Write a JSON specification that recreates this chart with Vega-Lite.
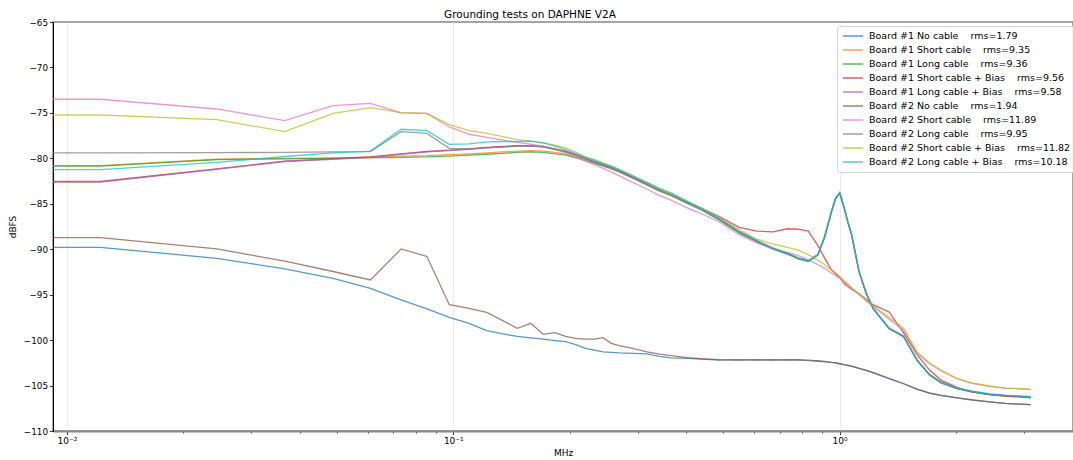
{
  "$schema": "https://vega.github.io/schema/vega-lite/v6.json",
  "width": 1020,
  "height": 409,
  "autosize": {"type": "none"},
  "padding": {"left": 53, "top": 22, "right": 0, "bottom": 29},
  "background": "white",
  "title": {"text": "Grounding tests on DAPHNE V2A", "font": "DejaVu Sans", "fontSize": 10.5, "fontWeight": "normal", "color": "#000000", "anchor": "middle", "dx": -33, "baseline": "bottom", "offset": 4, "dy": 16},
  "data": {"values": [
    {"f":0.006,"b1n":-89.8,"b1s":-80.8,"b1l":-80.85,"b1sb":-82.55,"b1lb":-82.62,"b2n":-88.73,"b2s":-73.5,"b2l":-79.4,"b2sb":-75.23,"b2lb":-81.25},
    {"f":0.012207,"b1n":-89.8,"b1s":-80.8,"b1l":-80.85,"b1sb":-82.55,"b1lb":-82.62,"b2n":-88.73,"b2s":-73.5,"b2l":-79.4,"b2sb":-75.23,"b2lb":-81.25},
    {"f":0.024414,"b1n":-91.0,"b1s":-80.1,"b1l":-80.15,"b1sb":-81.15,"b1lb":-81.2,"b2n":-89.97,"b2s":-74.57,"b2l":-79.38,"b2sb":-75.74,"b2lb":-80.45},
    {"f":0.036621,"b1n":-92.17,"b1s":-80.0,"b1l":-80.05,"b1sb":-80.3,"b1lb":-80.35,"b2n":-91.3,"b2s":-75.86,"b2l":-79.34,"b2sb":-77.06,"b2lb":-79.8},
    {"f":0.048828,"b1n":-93.2,"b1s":-79.95,"b1l":-80.0,"b1sb":-80.05,"b1lb":-80.1,"b2n":-92.45,"b2s":-74.2,"b2l":-79.3,"b2sb":-75.05,"b2lb":-79.4},
    {"f":0.061035,"b1n":-94.3,"b1s":-79.85,"b1l":-79.95,"b1sb":-79.85,"b1lb":-79.9,"b2n":-93.38,"b2s":-73.95,"b2l":-79.26,"b2sb":-74.42,"b2lb":-79.2},
    {"f":0.073242,"b1n":-95.58,"b1s":-79.75,"b1l":-79.9,"b1sb":-79.5,"b1lb":-79.55,"b2n":-89.97,"b2s":-75.0,"b2l":-77.06,"b2sb":-74.97,"b2lb":-76.8},
    {"f":0.085449,"b1n":-96.57,"b1s":-79.7,"b1l":-79.85,"b1sb":-79.25,"b1lb":-79.3,"b2n":-90.8,"b2s":-75.05,"b2l":-77.25,"b2sb":-75.05,"b2lb":-76.95},
    {"f":0.097656,"b1n":-97.5,"b1s":-79.6,"b1l":-79.75,"b1sb":-79.1,"b1lb":-79.15,"b2n":-96.1,"b2s":-76.55,"b2l":-78.9,"b2sb":-76.3,"b2lb":-78.46},
    {"f":0.109863,"b1n":-98.15,"b1s":-79.5,"b1l":-79.65,"b1sb":-78.95,"b1lb":-79.0,"b2n":-96.5,"b2s":-77.35,"b2l":-78.95,"b2sb":-76.95,"b2lb":-78.4},
    {"f":0.12207,"b1n":-98.96,"b1s":-79.4,"b1l":-79.55,"b1sb":-78.8,"b1lb":-78.85,"b2n":-96.94,"b2s":-77.7,"b2l":-78.85,"b2sb":-77.25,"b2lb":-78.2},
    {"f":0.134277,"b1n":-99.32,"b1s":-79.3,"b1l":-79.45,"b1sb":-78.7,"b1lb":-78.75,"b2n":-97.86,"b2s":-78.0,"b2l":-78.75,"b2sb":-77.6,"b2lb":-78.15},
    {"f":0.146484,"b1n":-99.6,"b1s":-79.2,"b1l":-79.35,"b1sb":-78.6,"b1lb":-78.65,"b2n":-98.7,"b2s":-78.25,"b2l":-78.65,"b2sb":-77.95,"b2lb":-78.15},
    {"f":0.158691,"b1n":-99.75,"b1s":-79.15,"b1l":-79.3,"b1sb":-78.6,"b1lb":-78.65,"b2n":-98.15,"b2s":-78.45,"b2l":-78.65,"b2sb":-78.1,"b2lb":-78.1},
    {"f":0.170898,"b1n":-99.9,"b1s":-79.2,"b1l":-79.35,"b1sb":-78.7,"b1lb":-78.75,"b2n":-99.36,"b2s":-78.65,"b2l":-78.75,"b2sb":-78.3,"b2lb":-78.3},
    {"f":0.183105,"b1n":-100.05,"b1s":-79.35,"b1l":-79.5,"b1sb":-78.95,"b1lb":-79.0,"b2n":-99.18,"b2s":-79.0,"b2l":-79.0,"b2sb":-78.55,"b2lb":-78.65},
    {"f":0.195313,"b1n":-100.17,"b1s":-79.5,"b1l":-79.65,"b1sb":-79.2,"b1lb":-79.25,"b2n":-99.6,"b2s":-79.4,"b2l":-79.25,"b2sb":-78.85,"b2lb":-79.05},
    {"f":0.20752,"b1n":-100.5,"b1s":-79.8,"b1l":-79.95,"b1sb":-79.6,"b1lb":-79.65,"b2n":-99.8,"b2s":-79.85,"b2l":-79.65,"b2sb":-79.3,"b2lb":-79.45},
    {"f":0.219727,"b1n":-100.9,"b1s":-80.1,"b1l":-80.25,"b1sb":-80.0,"b1lb":-80.05,"b2n":-99.9,"b2s":-80.3,"b2l":-80.05,"b2sb":-79.8,"b2lb":-79.9},
    {"f":0.231934,"b1n":-101.1,"b1s":-80.45,"b1l":-80.55,"b1sb":-80.35,"b1lb":-80.4,"b2n":-99.9,"b2s":-80.7,"b2l":-80.4,"b2sb":-80.15,"b2lb":-80.2},
    {"f":0.244141,"b1n":-101.3,"b1s":-80.75,"b1l":-80.85,"b1sb":-80.7,"b1lb":-80.75,"b2n":-99.73,"b2s":-81.1,"b2l":-80.75,"b2sb":-80.5,"b2lb":-80.55},
    {"f":0.256348,"b1n":-101.35,"b1s":-81.05,"b1l":-81.15,"b1sb":-81.0,"b1lb":-81.05,"b2n":-100.35,"b2s":-81.5,"b2l":-81.05,"b2sb":-80.85,"b2lb":-80.85},
    {"f":0.268555,"b1n":-101.4,"b1s":-81.4,"b1l":-81.5,"b1sb":-81.35,"b1lb":-81.4,"b2n":-100.6,"b2s":-81.9,"b2l":-81.4,"b2sb":-81.2,"b2lb":-81.2},
    {"f":0.292969,"b1n":-101.45,"b1s":-82.15,"b1l":-82.25,"b1sb":-82.1,"b1lb":-82.15,"b2n":-100.93,"b2s":-82.7,"b2l":-82.15,"b2sb":-82.0,"b2lb":-81.95},
    {"f":0.317383,"b1n":-101.52,"b1s":-82.85,"b1l":-82.95,"b1sb":-82.8,"b1lb":-82.85,"b2n":-101.3,"b2s":-83.4,"b2l":-82.85,"b2sb":-82.7,"b2lb":-82.65},
    {"f":0.341797,"b1n":-101.8,"b1s":-83.5,"b1l":-83.6,"b1sb":-83.45,"b1lb":-83.5,"b2n":-101.55,"b2s":-84.1,"b2l":-83.5,"b2sb":-83.4,"b2lb":-83.3},
    {"f":0.366211,"b1n":-101.95,"b1s":-84.0,"b1l":-84.1,"b1sb":-83.95,"b1lb":-84.0,"b2n":-101.7,"b2s":-84.6,"b2l":-84.0,"b2sb":-83.9,"b2lb":-83.8},
    {"f":0.402832,"b1n":-102.0,"b1s":-84.85,"b1l":-84.95,"b1sb":-84.8,"b1lb":-84.85,"b2n":-101.93,"b2s":-85.45,"b2l":-84.85,"b2sb":-84.75,"b2lb":-84.7},
    {"f":0.439453,"b1n":-102.1,"b1s":-85.6,"b1l":-85.7,"b1sb":-85.5,"b1lb":-85.6,"b2n":-102.05,"b2s":-86.1,"b2l":-85.6,"b2sb":-85.5,"b2lb":-85.5},
    {"f":0.488281,"b1n":-102.2,"b1s":-86.7,"b1l":-86.8,"b1sb":-86.4,"b1lb":-86.7,"b2n":-102.15,"b2s":-87.0,"b2l":-86.7,"b2sb":-86.55,"b2lb":-86.6},
    {"f":0.549316,"b1n":-102.15,"b1s":-88.1,"b1l":-88.2,"b1sb":-87.6,"b1lb":-88.1,"b2n":-102.2,"b2s":-88.4,"b2l":-88.1,"b2sb":-87.8,"b2lb":-88.0},
    {"f":0.610352,"b1n":-102.2,"b1s":-89.1,"b1l":-89.2,"b1sb":-88.0,"b1lb":-89.1,"b2n":-102.15,"b2s":-89.3,"b2l":-89.1,"b2sb":-88.9,"b2lb":-89.0},
    {"f":0.671387,"b1n":-102.15,"b1s":-89.9,"b1l":-90.0,"b1sb":-88.1,"b1lb":-89.9,"b2n":-102.2,"b2s":-89.95,"b2l":-89.9,"b2sb":-89.4,"b2lb":-89.85},
    {"f":0.732422,"b1n":-102.2,"b1s":-90.5,"b1l":-90.55,"b1sb":-87.75,"b1lb":-90.45,"b2n":-102.15,"b2s":-90.35,"b2l":-90.45,"b2sb":-89.8,"b2lb":-90.4},
    {"f":0.78125,"b1n":-102.15,"b1s":-91.0,"b1l":-91.05,"b1sb":-87.8,"b1lb":-91.0,"b2n":-102.2,"b2s":-90.7,"b2l":-91.0,"b2sb":-90.1,"b2lb":-90.95},
    {"f":0.830078,"b1n":-102.25,"b1s":-91.3,"b1l":-91.35,"b1sb":-88.0,"b1lb":-91.3,"b2n":-102.2,"b2s":-91.2,"b2l":-91.3,"b2sb":-90.6,"b2lb":-91.25},
    {"f":0.878906,"b1n":-102.3,"b1s":-90.6,"b1l":-90.65,"b1sb":-89.6,"b1lb":-90.6,"b2n":-102.3,"b2s":-91.7,"b2l":-90.6,"b2sb":-91.2,"b2lb":-90.55},
    {"f":0.915527,"b1n":-102.35,"b1s":-88.6,"b1l":-88.65,"b1sb":-91.0,"b1lb":-88.6,"b2n":-102.4,"b2s":-92.1,"b2l":-88.6,"b2sb":-91.7,"b2lb":-88.55},
    {"f":0.952148,"b1n":-102.45,"b1s":-85.9,"b1l":-85.95,"b1sb":-92.25,"b1lb":-85.9,"b2n":-102.45,"b2s":-92.6,"b2l":-85.9,"b2sb":-92.3,"b2lb":-85.85},
    {"f":0.976563,"b1n":-102.5,"b1s":-84.4,"b1l":-84.45,"b1sb":-92.7,"b1lb":-84.4,"b2n":-102.5,"b2s":-92.9,"b2l":-84.4,"b2sb":-92.6,"b2lb":-84.35},
    {"f":1.000977,"b1n":-102.6,"b1s":-83.8,"b1l":-83.85,"b1sb":-93.1,"b1lb":-83.8,"b2n":-102.6,"b2s":-93.2,"b2l":-83.8,"b2sb":-93.0,"b2lb":-83.75},
    {"f":1.025391,"b1n":-102.7,"b1s":-85.3,"b1l":-85.35,"b1sb":-93.75,"b1lb":-85.3,"b2n":-102.7,"b2s":-93.5,"b2l":-85.3,"b2sb":-93.4,"b2lb":-85.25},
    {"f":1.049805,"b1n":-102.75,"b1s":-86.97,"b1l":-87.0,"b1sb":-94.1,"b1lb":-86.97,"b2n":-102.8,"b2s":-93.9,"b2l":-86.97,"b2sb":-93.8,"b2lb":-86.9},
    {"f":1.074219,"b1n":-102.85,"b1s":-88.4,"b1l":-88.45,"b1sb":-94.4,"b1lb":-88.4,"b2n":-102.9,"b2s":-94.3,"b2l":-88.4,"b2sb":-94.2,"b2lb":-88.35},
    {"f":1.123047,"b1n":-103.1,"b1s":-92.47,"b1l":-92.5,"b1sb":-94.9,"b1lb":-92.47,"b2n":-103.1,"b2s":-95.0,"b2l":-92.47,"b2sb":-94.9,"b2lb":-92.4},
    {"f":1.171875,"b1n":-103.3,"b1s":-94.85,"b1l":-94.9,"b1sb":-95.5,"b1lb":-94.85,"b2n":-103.35,"b2s":-95.7,"b2l":-94.85,"b2sb":-95.6,"b2lb":-94.8},
    {"f":1.220703,"b1n":-103.55,"b1s":-96.5,"b1l":-96.55,"b1sb":-96.1,"b1lb":-96.5,"b2n":-103.6,"b2s":-96.3,"b2l":-96.5,"b2sb":-96.2,"b2lb":-96.45},
    {"f":1.342773,"b1n":-104.2,"b1s":-98.7,"b1l":-98.75,"b1sb":-96.9,"b1lb":-98.7,"b2n":-104.25,"b2s":-97.7,"b2l":-98.7,"b2sb":-97.5,"b2lb":-98.65},
    {"f":1.464844,"b1n":-104.8,"b1s":-99.6,"b1l":-99.65,"b1sb":-99.2,"b1lb":-99.6,"b2n":-104.8,"b2s":-98.9,"b2l":-99.6,"b2sb":-98.7,"b2lb":-99.55},
    {"f":1.586914,"b1n":-105.4,"b1s":-102.2,"b1l":-102.25,"b1sb":-101.6,"b1lb":-102.2,"b2n":-105.4,"b2s":-101.4,"b2l":-102.2,"b2sb":-101.3,"b2lb":-102.15},
    {"f":1.708984,"b1n":-105.8,"b1s":-103.8,"b1l":-103.85,"b1sb":-103.3,"b1lb":-103.8,"b2n":-105.85,"b2s":-102.6,"b2l":-103.8,"b2sb":-102.5,"b2lb":-103.75},
    {"f":1.831055,"b1n":-106.05,"b1s":-104.67,"b1l":-104.7,"b1sb":-104.4,"b1lb":-104.67,"b2n":-106.1,"b2s":-103.4,"b2l":-104.67,"b2sb":-103.3,"b2lb":-104.6},
    {"f":2.01416,"b1n":-106.35,"b1s":-105.3,"b1l":-105.35,"b1sb":-105.2,"b1lb":-105.3,"b2n":-106.35,"b2s":-104.25,"b2l":-105.3,"b2sb":-104.2,"b2lb":-105.25},
    {"f":2.197266,"b1n":-106.55,"b1s":-105.67,"b1l":-105.7,"b1sb":-105.7,"b1lb":-105.67,"b2n":-106.6,"b2s":-104.75,"b2l":-105.67,"b2sb":-104.7,"b2lb":-105.6},
    {"f":2.441406,"b1n":-106.8,"b1s":-105.96,"b1l":-106.0,"b1sb":-106.0,"b1lb":-105.96,"b2n":-106.8,"b2s":-105.1,"b2l":-105.96,"b2sb":-105.05,"b2lb":-105.9},
    {"f":2.685547,"b1n":-106.95,"b1s":-106.1,"b1l":-106.15,"b1sb":-106.15,"b1lb":-106.1,"b2n":-106.95,"b2s":-105.3,"b2l":-106.1,"b2sb":-105.25,"b2lb":-106.05},
    {"f":2.929688,"b1n":-107.05,"b1s":-106.2,"b1l":-106.25,"b1sb":-106.25,"b1lb":-106.2,"b2n":-107.05,"b2s":-105.35,"b2l":-106.2,"b2sb":-105.35,"b2lb":-106.15},
    {"f":3.125,"b1n":-107.1,"b1s":-106.3,"b1l":-106.3,"b1sb":-106.35,"b1lb":-106.3,"b2n":-107.1,"b2s":-105.45,"b2l":-106.3,"b2sb":-105.4,"b2lb":-106.2}
  ]},
  "transform": [
    {"fold": ["b1n","b1s","b1l","b1sb","b1lb","b2n","b2s","b2l","b2sb","b2lb"], "as": ["series","dbfs"]}
  ],
  "mark": {"type": "line", "strokeWidth": 1.3, "opacity": 0.75, "clip": true},
  "encoding": {
    "x": {
      "field": "f", "type": "quantitative",
      "scale": {"type": "log", "domain": [0.0092, 4.02], "nice": false},
      "axis": {
        "title": "MHz", "titleFont": "DejaVu Sans", "titleFontSize": 9, "titleFontWeight": "normal", "titleColor": "#000000", "titlePadding": 3,
        "values": [0.01,0.02,0.03,0.04,0.05,0.06,0.07,0.08,0.09,0.1,0.2,0.3,0.4,0.5,0.6,0.7,0.8,0.9,1,2,3],
        "labelExpr": "abs(datum.value-0.01)<0.0001 ? '10⁻²' : abs(datum.value-0.1)<0.001 ? '10⁻¹' : abs(datum.value-1)<0.01 ? '10⁰' : ''",
        "labelFont": "DejaVu Sans", "labelFontSize": 9, "labelColor": "#000000", "labelPadding": 2, "labelOverlap": false, "labelFlush": false,
        "grid": true, "gridColor": "#e6e6e6", "gridWidth": 0.8,
        "gridOpacity": {"condition": {"test": "abs(log(datum.value)/LN10 - round(log(datum.value)/LN10)) < 0.01", "value": 1}, "value": 0},
        "tickSize": {"condition": {"test": "abs(log(datum.value)/LN10 - round(log(datum.value)/LN10)) < 0.01", "value": 3.5}, "value": 2},
        "tickColor": "#000000", "tickWidth": 0.8,
        "domain": true, "domainColor": "#888888", "domainWidth": 2
      }
    },
    "y": {
      "field": "dbfs", "type": "quantitative",
      "scale": {"domain": [-110, -65], "nice": false, "zero": false},
      "axis": {
        "title": "dBFS", "titleFont": "DejaVu Sans", "titleFontSize": 9, "titleFontWeight": "normal", "titleColor": "#000000", "titlePadding": 6,
        "values": [-110,-105,-100,-95,-90,-85,-80,-75,-70,-65],
        "labelExpr": "replace(format(datum.value, 'd'), '-', '−')",
        "labelFont": "DejaVu Sans", "labelFontSize": 8.8, "labelColor": "#000000", "labelPadding": 2,
        "grid": false, "tickSize": 3.5, "tickColor": "#000000", "tickWidth": 0.8,
        "domain": true, "domainColor": "#000000", "domainWidth": 1
      }
    },
    "color": {
      "field": "series", "type": "nominal",
      "scale": {"domain": ["b1n","b1s","b1l","b1sb","b1lb","b2n","b2s","b2l","b2sb","b2lb"], "range": ["#1f77b4","#ff7f0e","#2ca02c","#d62728","#9467bd","#8c564b","#e377c2","#7f7f7f","#bcbd22","#17becf"]},
      "legend": {
        "orient": "none", "legendX": 784, "legendY": 4, "direction": "vertical", "title": null,
        "symbolType": "M-2.5,0H2.5", "symbolSize": 64, "symbolStrokeWidth": 1.5, "symbolOpacity": 0.75, "symbolOffset": 6,
        "labelFont": "DejaVu Sans", "labelFontSize": 9.5, "labelColor": "#000000", "labelOffset": 11, "labelLimit": 0,
        "rowPadding": 4,
        "padding": 5, "strokeColor": "#d4d4d4", "fillColor": "rgba(255,255,255,0.85)", "cornerRadius": 2,
        "labelExpr": "{'b1n':'Board #1 No cable\u00a0\u00a0\u00a0\u00a0rms=1.79','b1s':'Board #1 Short cable\u00a0\u00a0\u00a0\u00a0rms=9.35','b1l':'Board #1 Long cable\u00a0\u00a0\u00a0\u00a0rms=9.36','b1sb':'Board #1 Short cable + Bias\u00a0\u00a0\u00a0\u00a0rms=9.56','b1lb':'Board #1 Long cable + Bias\u00a0\u00a0\u00a0\u00a0rms=9.58','b2n':'Board #2 No cable\u00a0\u00a0\u00a0\u00a0rms=1.94','b2s':'Board #2 Short cable\u00a0\u00a0\u00a0\u00a0rms=11.89','b2l':'Board #2 Long cable\u00a0\u00a0\u00a0\u00a0rms=9.95','b2sb':'Board #2 Short cable + Bias\u00a0\u00a0\u00a0\u00a0rms=11.82','b2lb':'Board #2 Long cable + Bias\u00a0\u00a0\u00a0\u00a0rms=10.18'}[datum.value]"
      }
    }
  },
  "config": {
    "view": {"stroke": "#888888", "strokeWidth": 1.5},
    "font": "DejaVu Sans"
  }
}
